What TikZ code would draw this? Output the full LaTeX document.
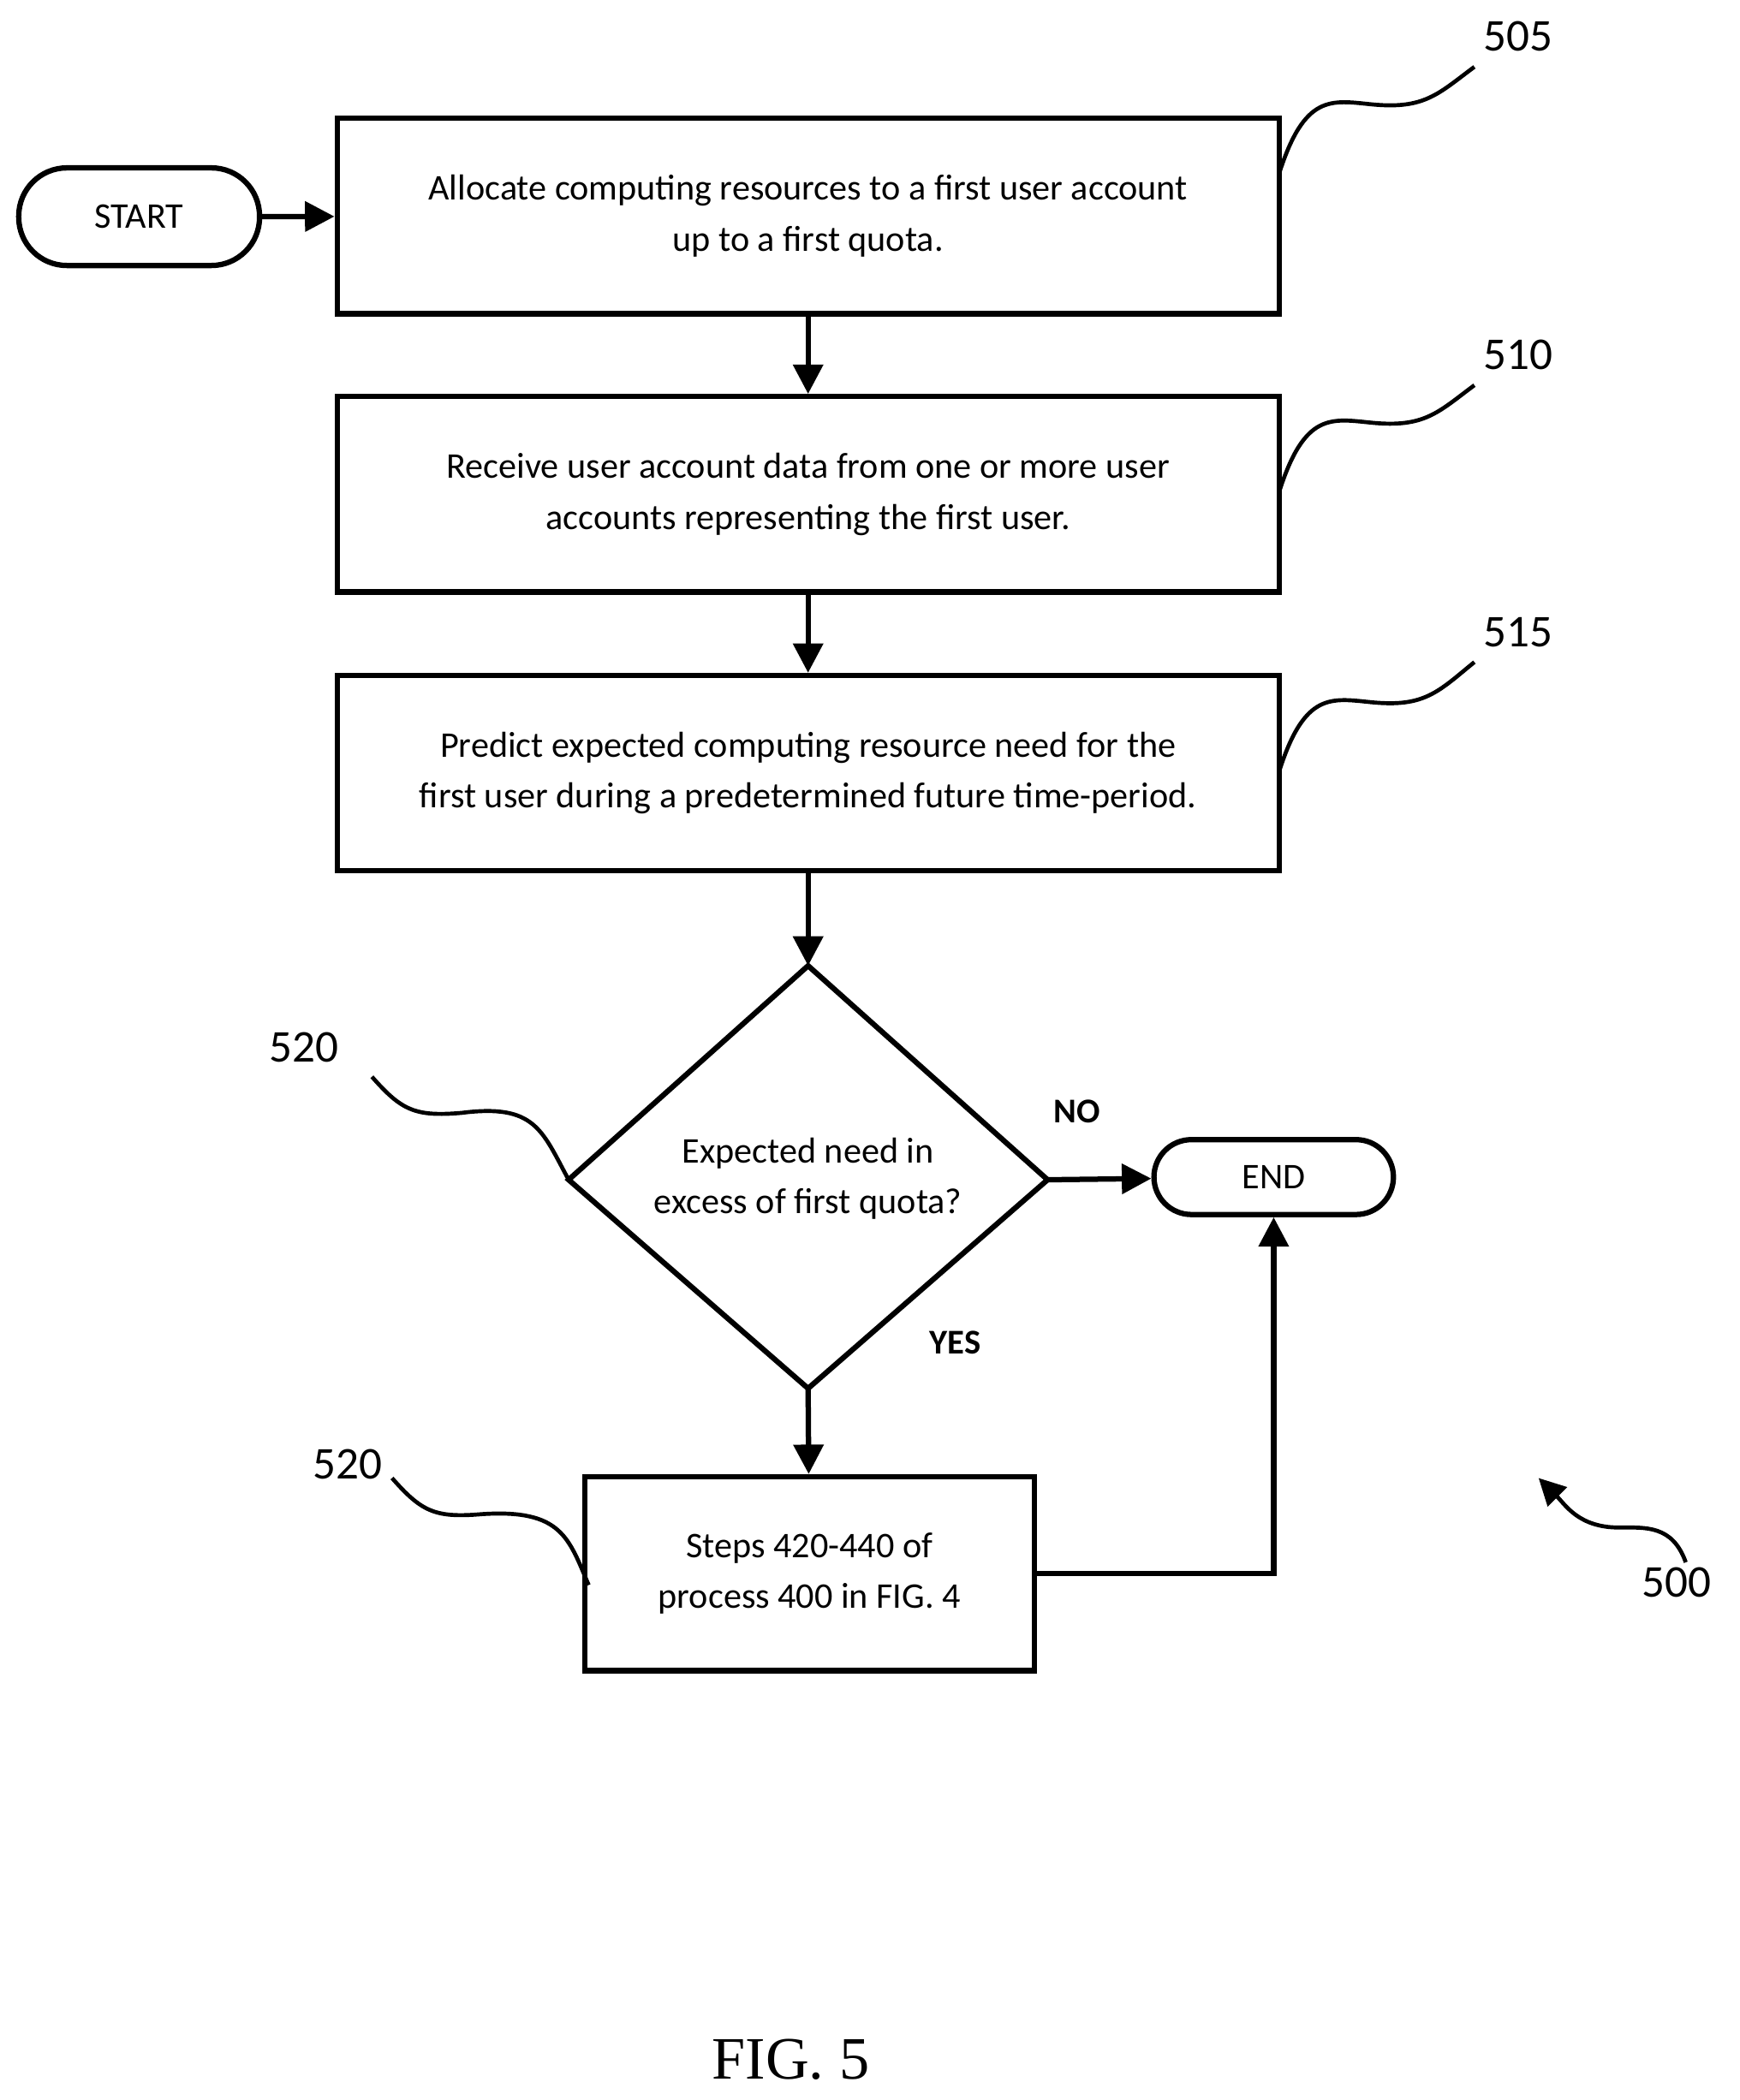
\documentclass[tikz,border=0pt]{standalone}
\usepackage{fontspec}
\setmainfont{Carlito}
\newfontfamily\figfont{Liberation Serif}
\usetikzlibrary{shapes.geometric,arrows.meta}
\begin{document}
\begin{tikzpicture}[x=1pt,y=-1pt,line width=4pt,
 box/.style={draw,rectangle,minimum width=704pt,minimum height=146pt,align=center,font=\fontsize{27}{38}\selectfont,inner sep=0pt},
 term/.style={draw,rounded rectangle,align=center,font=\fontsize{27}{32}\selectfont},
 arr/.style={-{Triangle[length=22pt,width=22pt]}},
 sq/.style={line width=3pt},
 lab/.style={font=\fontsize{34}{40}\selectfont},
 yn/.style={font=\bfseries\fontsize{26}{30}\selectfont}]
\useasboundingbox (0,0) rectangle (1300,1570);
\node[draw,rounded corners=36pt,minimum width=180pt,minimum height=73pt,font=\fontsize{27}{32}\selectfont] (start) at (104,162) {START};
\node[box] (b505) at (604,161.5) {Allocate computing resources to a first user account\\up to a first quota.};
\node[box] (b510) at (604,369.5) {Receive user account data from one or more user\\accounts representing the first user.};
\node[box] (b515) at (604,578) {Predict expected computing resource need for the\\first user during a predetermined future time-period.};
\draw (604,722) coordinate (dt) -- (783,882) coordinate (dr) -- (604,1038) coordinate (db) -- (425,882) coordinate (dl) -- cycle;
\node[align=center,font=\fontsize{27}{38}\selectfont] (dtext) at (604,881) {Expected need in\\excess of first quota?};
\node[draw,rounded corners=28pt,minimum width=179pt,minimum height=56pt,font=\fontsize{27}{32}\selectfont] (end) at (952,880) {END};
\node[draw,rectangle,minimum width=336pt,minimum height=145pt,align=center,font=\fontsize{27}{38}\selectfont,inner sep=0pt] (b520) at (605,1176.5) {Steps 420-440 of\\process 400 in FIG. 4};
\draw[arr] (start) -- (b505);
\draw[arr] (b505) -- (b510);
\draw[arr] (b510) -- (b515);
\draw[arr] (b515) -- (dt);
\draw[arr] (dr) -- (end);
\draw[arr] (db) -- (b520);
\draw[arr] (b520.east) -| (end.south);
\node[yn] (no) at (805,831) {NO};
\node[yn] (yes) at (714,1004) {YES};
\node[lab] (l505) at (1135,27) {505};
\node[lab] (l510) at (1135,265) {510};
\node[lab] (l515) at (1135,473) {515};
\node[lab] (l520a) at (227,783) {520};
\node[lab] (l520b) at (260,1095) {520};
\node[lab] (l500) at (1253,1183) {500};
\foreach \y/\t in {130/50,368/288,577/495}{
 \draw[sq] (956,\y) .. controls (975,\y-60) and (995,\y-55) .. (1025,\y-52) .. controls (1065,\y-48) and (1075,\y-60) .. (1102,\t);}
\draw[sq] (278,805) .. controls (300,830) and (310,835) .. (345,832) .. controls (400,825) and (405,845) .. (425,882);
\draw[sq] (293,1105) .. controls (315,1130) and (325,1135) .. (360,1132) .. controls (420,1128) and (425,1150) .. (440,1185);
\draw[sq,-{Triangle[length=20pt,width=20pt]}] (1260,1168) .. controls (1250,1140) and (1230,1142) .. (1210,1142) .. controls (1180,1142) and (1170,1125) .. (1150,1105);
\node[font=\figfont\fontsize{45}{50}\selectfont] (fig) at (591,1540) {FIG. 5};
\end{tikzpicture}
\end{document}
